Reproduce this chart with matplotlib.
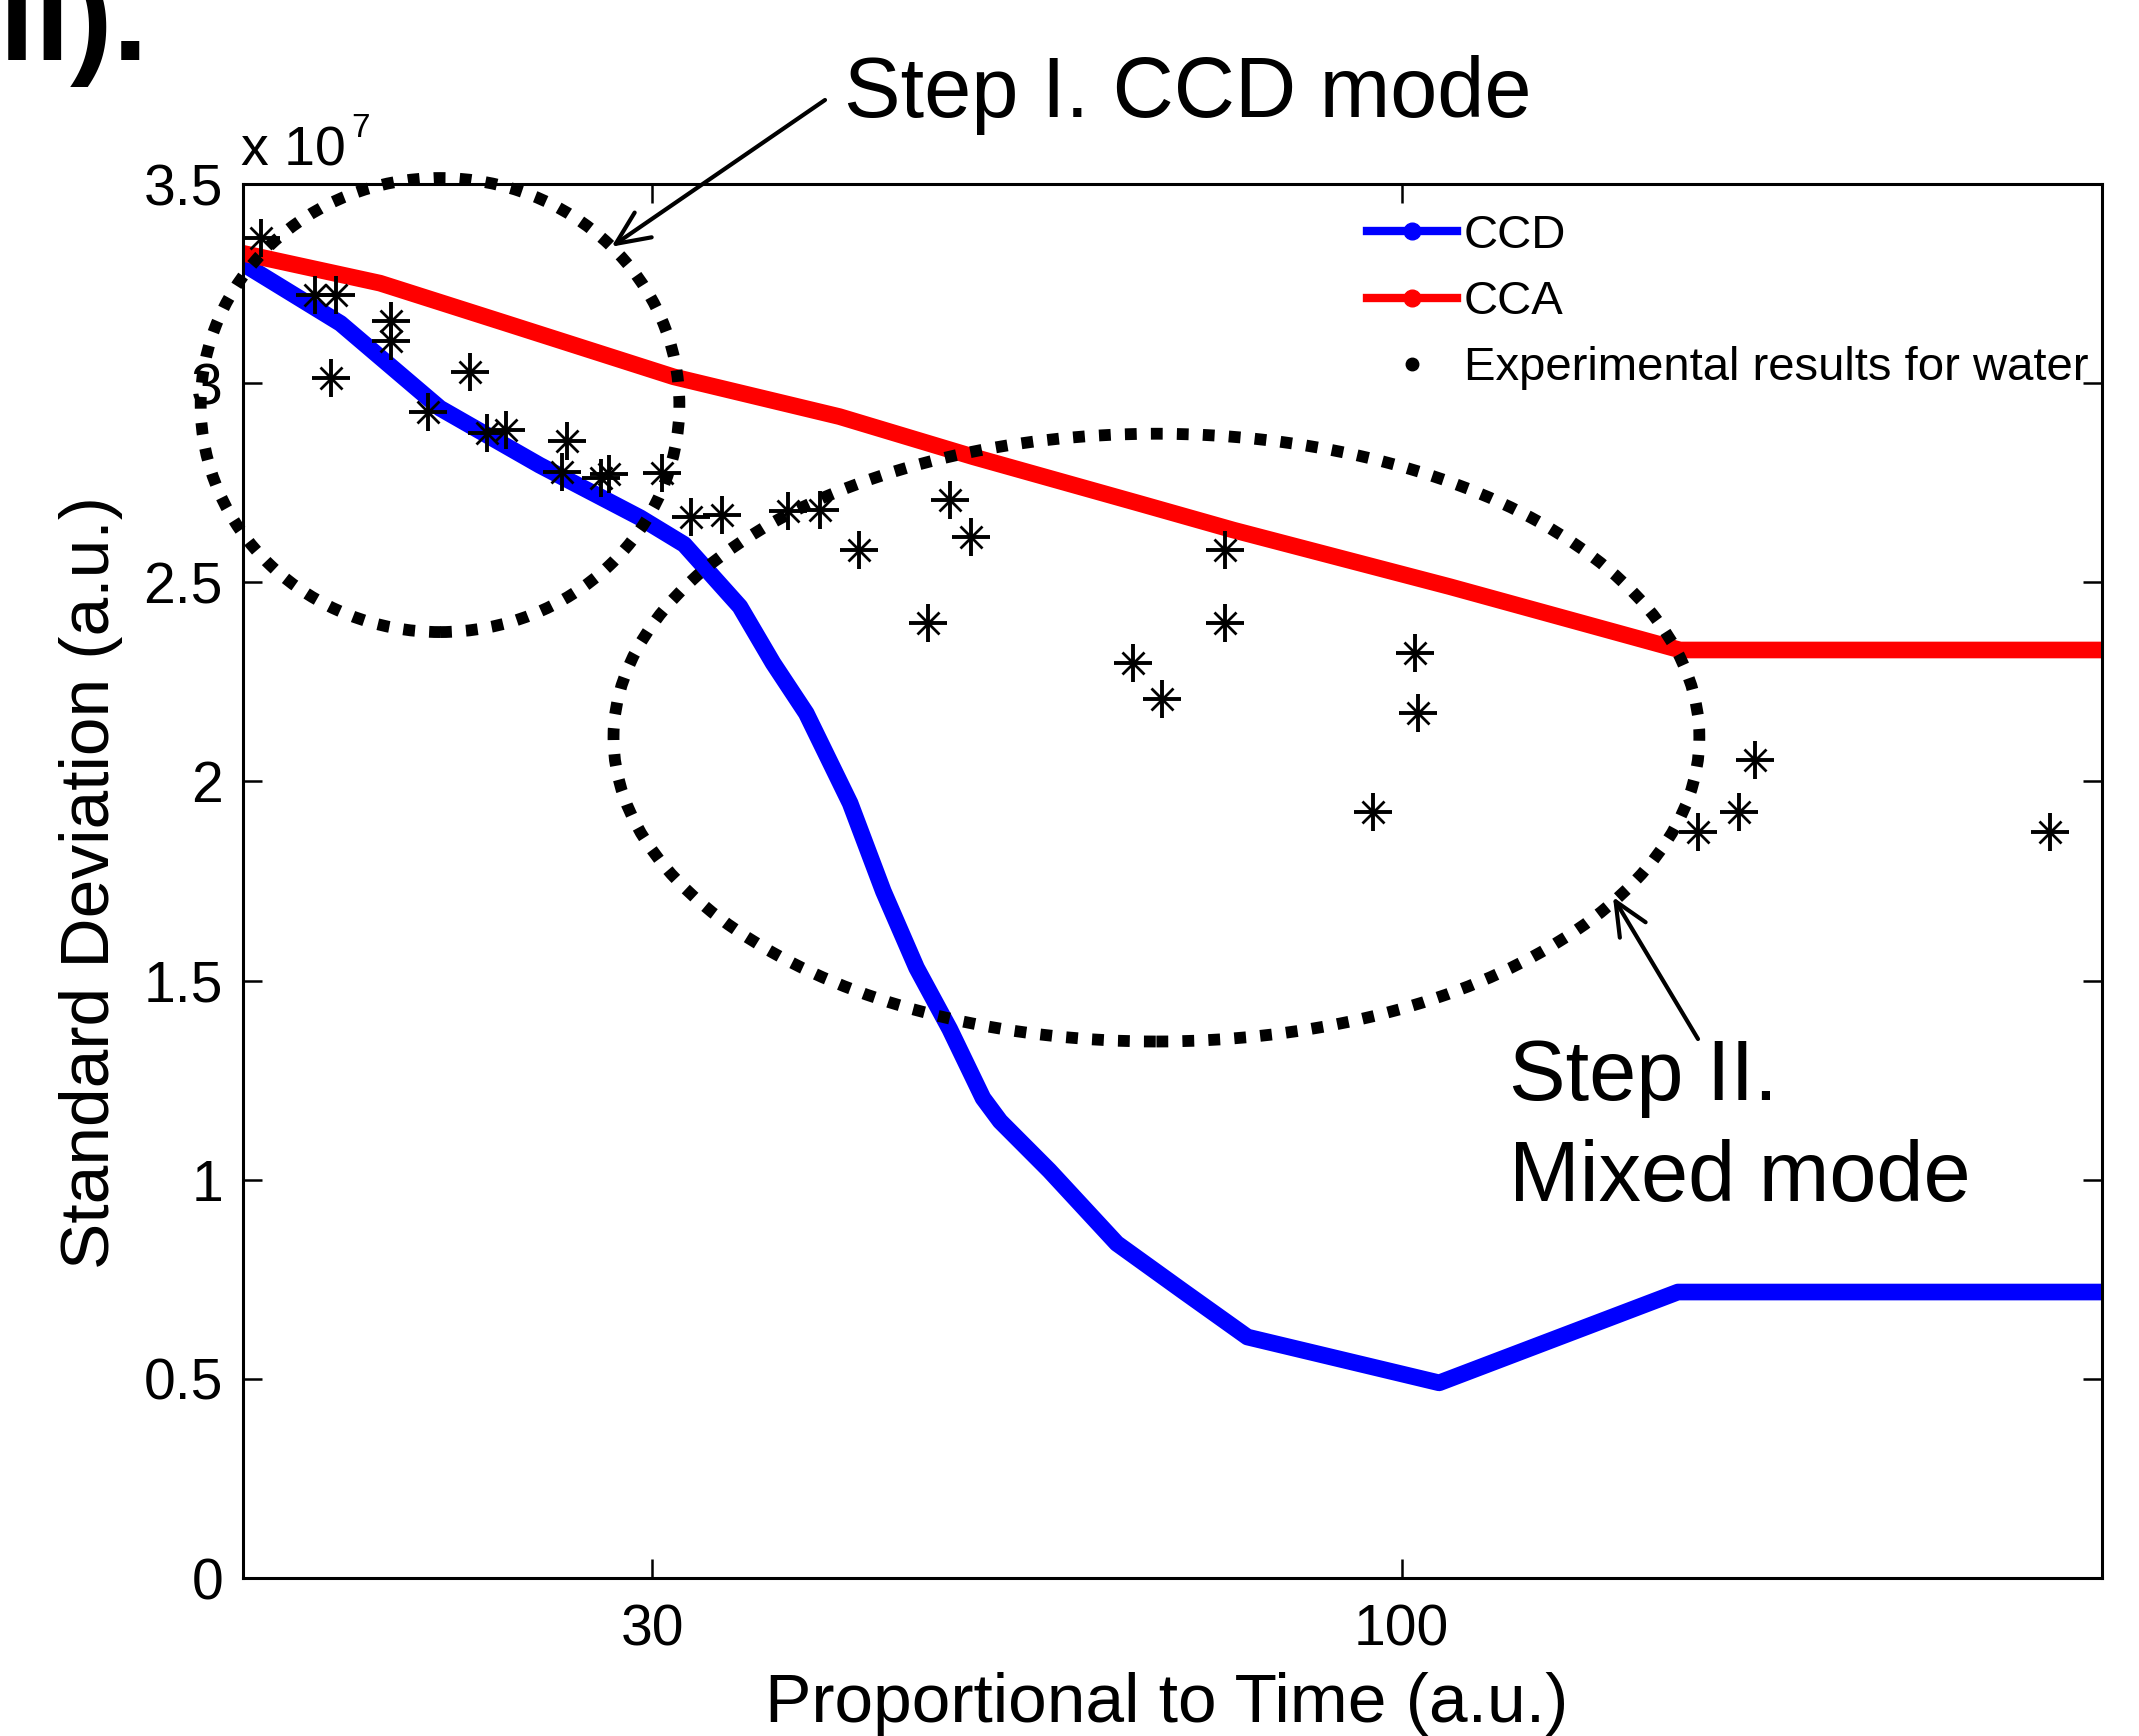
import matplotlib
matplotlib.use('Agg')
import matplotlib.pyplot as plt
from matplotlib.patches import Ellipse
from matplotlib.lines import Line2D

plt.rcParams['font.family'] = ['Liberation Sans', 'DejaVu Sans']

W, H, DPI = 2139, 1736, 100

# ---------------- data (standard deviation in units of 1e7) ----------------
ccd_x = [-8.2, 0.9, 10.2, 19.5, 28.9, 33.0, 36.5, 38.2, 41.3, 44.4, 48.5, 51.6,
         54.7, 57.8, 60.9, 62.5, 67.1, 73.4, 79.6, 85.6, 103.5, 125.8, 165.4]
ccd_y = [3.30, 3.15, 2.937, 2.794, 2.662, 2.595, 2.49, 2.439, 2.297, 2.171, 1.945, 1.724,
         1.532, 1.378, 1.205, 1.147, 1.023, 0.840, 0.72, 0.605, 0.49, 0.718, 0.718]

cca_x = [-8.2, 4.6, 16.4, 32.0, 47.5, 60.0, 75.5, 84.3, 104.5, 126.0, 165.4]
cca_y = [3.326, 3.251, 3.150, 3.016, 2.916, 2.815, 2.698, 2.631, 2.489, 2.330, 2.330]

exp_x = [-6.5, -1.5, 0.5, 5.6, 5.6, 0.0, 9.1, 13.0, 14.6, 16.4, 22.1, 21.6, 25.2, 26.0,
         30.9, 33.6, 36.5, 42.7, 45.7, 49.3, 57.8, 59.8, 55.8, 74.9, 77.6, 83.5, 83.5,
         97.3, 101.2, 101.5, 127.7, 131.5, 133.0, 160.5]
exp_y = [3.364, 3.221, 3.221, 3.157, 3.107, 3.012, 2.928, 3.029, 2.874, 2.882, 2.855, 2.778,
         2.762, 2.772, 2.774, 2.665, 2.669, 2.680, 2.681, 2.581, 2.706, 2.614, 2.397, 2.297,
         2.206, 2.581, 2.397, 1.922, 2.322, 2.173, 1.872, 1.922, 2.055, 1.872]

x_ticks = [30, 100]
y_ticks = [0, 0.5, 1, 1.5, 2, 2.5, 3, 3.5]
y_tick_labels = ['0', '0.5', '1', '1.5', '2', '2.5', '3', '3.5']
x_limits = (-8.2, 165.4)
y_limits = (0, 3.5)

legend_labels = ['CCD', 'CCA', 'Experimental results for water']

# ---------------- figure ----------------
fig = plt.figure(figsize=(W / DPI, H / DPI), dpi=DPI)
L, R, T, B = 243, 2102, 184, 1578
ax = fig.add_axes([L / W, 1 - B / H, (R - L) / W, (B - T) / H])

ax.plot(ccd_x, ccd_y, color='#0000ff', lw=12, zorder=2)
ax.plot(cca_x, cca_y, color='#ff0000', lw=12, zorder=2)
ax.plot(exp_x, exp_y, ls='none', marker='+', ms=27, mew=2.8, color='k', zorder=3)
ax.plot(exp_x, exp_y, ls='none', marker='x', ms=16, mew=2.0, color='k', zorder=3)

ax.set_xlim(*x_limits)
ax.set_ylim(*y_limits)
ax.set_xticks(x_ticks)
ax.set_xticklabels([str(v) for v in x_ticks])
ax.set_yticks(y_ticks)
ax.set_yticklabels(y_tick_labels)
ax.tick_params(direction='in', length=13.7, width=1.8, top=True, right=True, labelsize=41)
ax.tick_params(axis='y', pad=14.4)
ax.tick_params(axis='x', pad=18)
for s in ax.spines.values():
    s.set_linewidth(2.2)

ax.set_xlabel('Proportional to Time (a.u.)', fontsize=50)
ax.xaxis.set_label_coords((1167 - L) / (R - L), (B - 1672) / (B - T))
ax.set_ylabel('Standard Deviation (a.u.)', fontsize=50)
ax.yaxis.set_label_coords((123 - L) / (R - L), (B - 883) / (B - T))

# exponent label
fig.text(241 / W, 1 - 166 / H, 'x 10', fontsize=40, ha='left', va='baseline')
fig.text(351 / W, 1 - 137 / H, '7', fontsize=24, ha='left', va='baseline')

# legend
handles = [Line2D([], [], color='#0000ff', lw=6, marker='o', ms=12),
           Line2D([], [], color='#ff0000', lw=6, marker='o', ms=12),
           Line2D([], [], ls='none', marker='o', color='k', ms=9)]
ax.legend(handles, legend_labels, loc='upper left',
          bbox_to_anchor=(1367 / W, 1 - 214 / H), bbox_transform=fig.transFigure,
          frameon=False, fontsize=34, handlelength=1.9, handletextpad=0.15,
          labelspacing=0.47, borderpad=0, borderaxespad=0)

# dotted ellipses (data coordinates)
dot_style = (0, (1, 1.2))
for (cx, cy, ew, eh) in [(10.2, 2.945, 44.7, 1.14), (77.1, 2.11, 101.4, 1.526)]:
    ax.add_patch(Ellipse((cx, cy), ew, eh, fill=False, ec='k', lw=8.5,
                         ls=dot_style, clip_on=False, zorder=4))

# annotation texts and arrows
fig.text(844 / W, 1 - 117 / H, 'Step I. CCD mode', fontsize=61, ha='left', va='baseline')
fig.text(1509 / W, 1 - 1100 / H, 'Step II.', fontsize=61, ha='left', va='baseline')
fig.text(1509 / W, 1 - 1201 / H, 'Mixed mode', fontsize=61, ha='left', va='baseline')

arrow_kw = dict(arrowstyle='->,head_length=1.0,head_width=0.45', lw=3.0, color='k',
                shrinkA=0, shrinkB=0, mutation_scale=24)
ax.annotate('', xy=(611.5, H - 246.7), xytext=(825, H - 100), xycoords='figure pixels',
            textcoords='figure pixels', arrowprops=arrow_kw, annotation_clip=False)
ax.annotate('', xy=(1613, H - 897), xytext=(1698, H - 1039), xycoords='figure pixels',
            textcoords='figure pixels', arrowprops=arrow_kw, annotation_clip=False)

# big clipped label at top-left (cut by the figure edge, as in the reference)
fig.text(148 / W, 1 - 60 / H, 'iii).', fontsize=92, fontweight='bold', ha='right', va='baseline')

fig.savefig('out.png', dpi=DPI)
